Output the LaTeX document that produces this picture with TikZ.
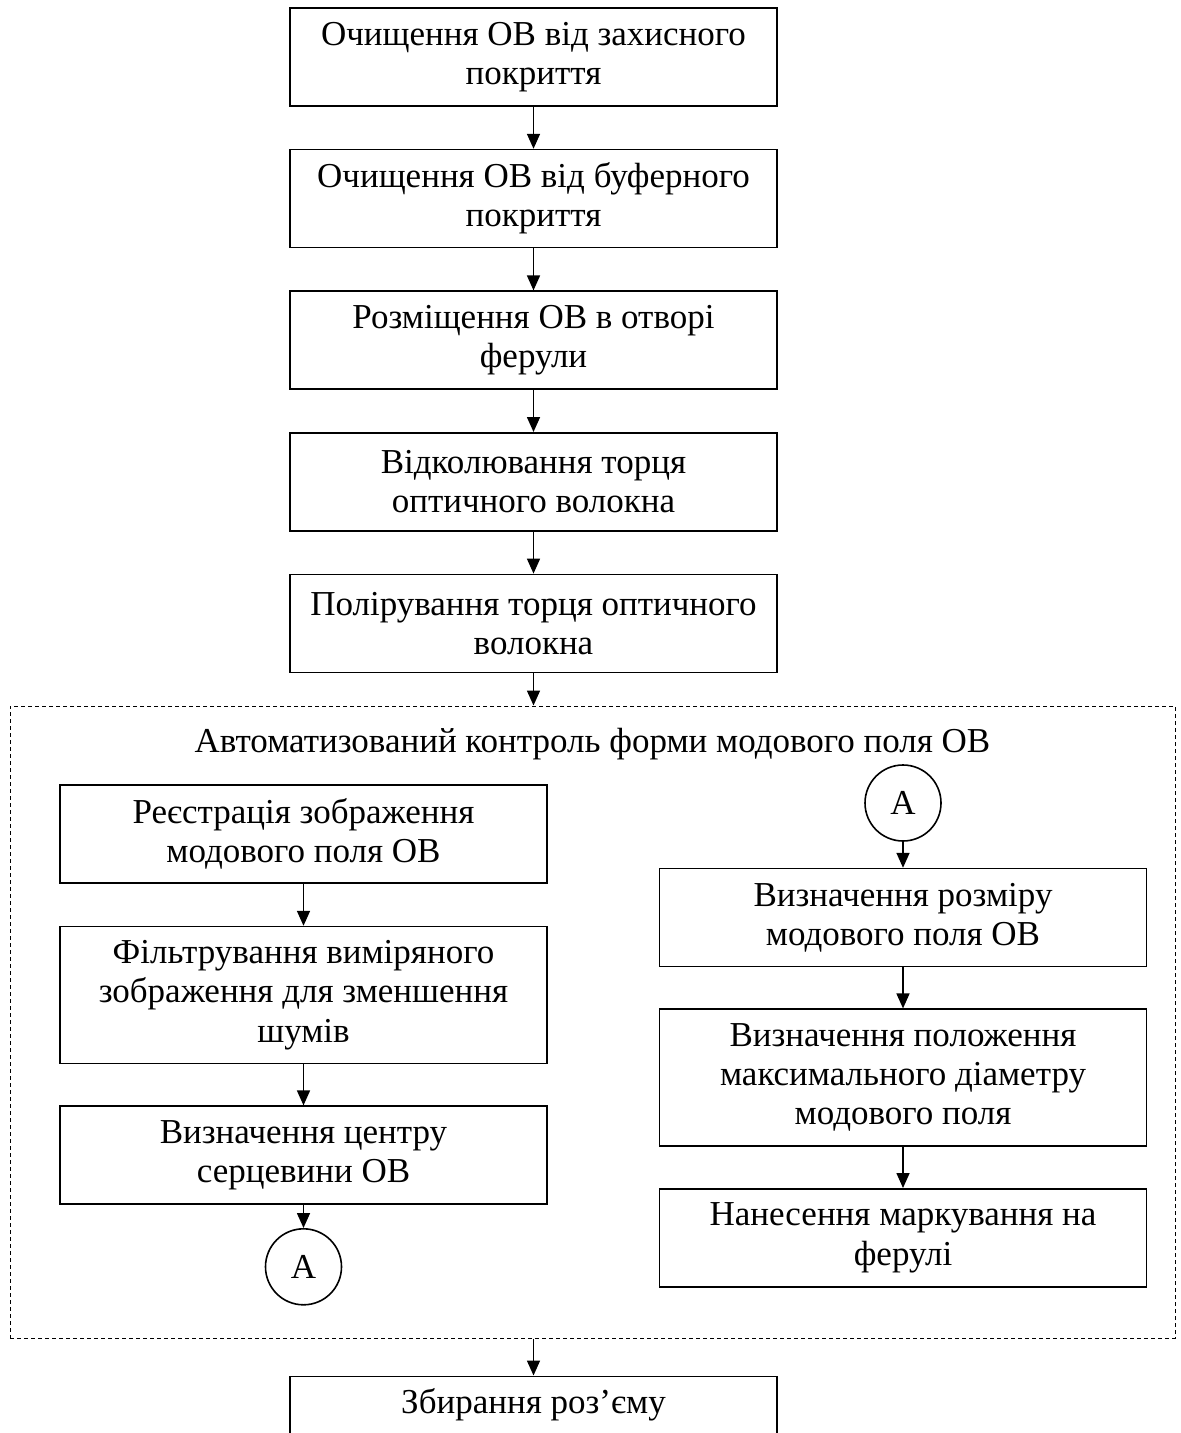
\documentclass[tikz,border=0pt]{standalone}
\usepackage{fontspec}
\setmainfont{Liberation Serif}
\usetikzlibrary{arrows.meta,positioning,calc}

\begin{document}
\begin{tikzpicture}[font=\fontsize{17.5}{19.6}\selectfont, >={Triangle[width=6.5pt,length=7.5pt]},
  blk/.style={draw, line width=0.8pt, align=center, minimum width=243.5pt, minimum height=49pt, inner sep=2pt},
  tall/.style={blk, minimum height=68.5pt},
  lbl/.style={draw, circle, line width=0.8pt, minimum size=38pt, inner sep=0pt},
  grp/.style={draw, dash pattern=on 2pt off 1.5pt, line width=0.5pt, minimum width=582.5pt, minimum height=316pt}]
  \useasboundingbox (0,0) rectangle (590.5pt,-716.5pt);
  % main chain
  \node[blk] (b1) at (266.75pt,-28.5pt) {Очищення ОВ від захисного\\покриття};
  \node[blk, below=21pt of b1] (b2) {Очищення ОВ від буферного\\покриття};
  \node[blk, below=21pt of b2] (b3) {Розміщення ОВ в отворі\\ферули};
  \node[blk, below=21pt of b3] (b4) {Відколювання торця\\оптичного волокна};
  \node[blk, below=21pt of b4] (b5) {Полірування торця оптичного\\волокна};
  \draw[->, line width=0.8pt] (b1)--(b2); \draw[->, line width=0.8pt] (b2)--(b3);
  \draw[->, line width=0.8pt] (b3)--(b4); \draw[->, line width=0.8pt] (b4)--(b5);
  % dashed group
  \node[grp] (auto) at (296.25pt,-511pt) {};
  \node (ttl) at ($(auto.north)+(0,-19.5pt)$) {Автоматизований контроль форми модового поля ОВ};
  \draw[->, line width=0.8pt] (b5.south)--(b5.south |- auto.north);
  % left column
  \node[blk] (l1) at (151.75pt,-417pt) {Реєстрація зображення\\модового поля ОВ};
  \node[tall, below=21pt of l1] (l2) {Фільтрування виміряного\\зображення для зменшення\\шумів};
  \node[blk, below=20.5pt of l2] (l3) {Визначення центру\\серцевини ОВ};
  \node[lbl, below=11.5pt of l3] (ca) {А};
  \draw[->, line width=0.8pt] (l1)--(l2); \draw[->, line width=0.8pt] (l2)--(l3);
  \draw[->, line width=0.8pt] (l3)--(ca);
  % right column
  \node[lbl] (cb) at (451.5pt,-401.5pt) {А};
  \node[blk, below=13pt of cb] (r1) {Визначення розміру\\модового поля ОВ};
  \node[tall, below=20.5pt of r1] (r2) {Визначення положення\\максимального діаметру\\модового поля};
  \node[blk, below=20.5pt of r2] (r3) {Нанесення маркування на\\ферулі};
  \draw[->, line width=0.8pt] (cb)--(r1); \draw[->, line width=0.8pt] (r1)--(r2);
  \draw[->, line width=0.8pt] (r2)--(r3);
  % last step
  \coordinate (ab) at (auto.south -| b5);
  \node[blk, below=18.5pt of ab, text depth=24pt] (b6) {Збирання роз’єму};
  \draw[->, line width=0.8pt] (ab)--(b6);
\end{tikzpicture}
\end{document}
